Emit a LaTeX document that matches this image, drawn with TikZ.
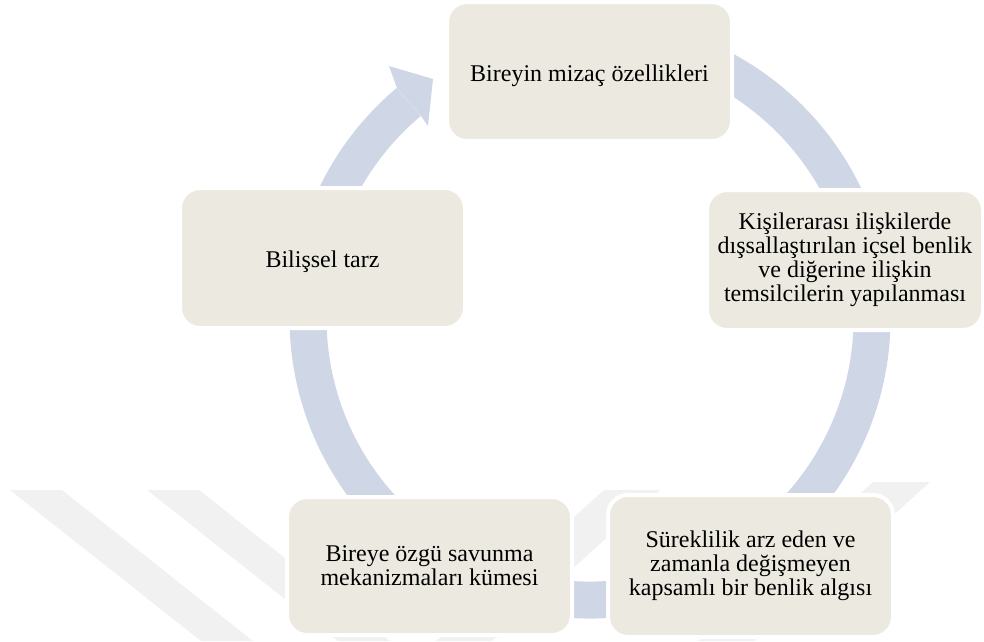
\documentclass[tikz,border=0pt]{standalone}
\usepackage{fontspec}
\setmainfont{Liberation Serif}
\definecolor{ringblue}{HTML}{CFD7E6}
\definecolor{boxfill}{HTML}{ECEAE0}
\definecolor{markgray}{HTML}{F1F1F1}
\tikzset{
  cyclebox/.style={draw=white, line width=4pt, fill=boxfill, rounded corners=20pt,
    minimum width=285pt, minimum height=139pt, align=center, inner sep=0pt,
    font=\fontsize{24}{24}\selectfont},
  oneline/.style={text height=21pt, text depth=2pt},
  ring/.style={draw=ringblue, line width=37pt}
}
\begin{document}
\begin{tikzpicture}[x=1pt,y=-1pt]
\useasboundingbox (0,0) rectangle (984,641);
\fill[markgray] (10,490) -- (62,490) -- (253,641) -- (201,641) -- cycle;
\fill[markgray] (147,490) -- (199,490) -- (390,641) -- (338,641) -- cycle;
\fill[markgray] (604,490) -- (660,490) -- (492,641) -- (436,641) -- cycle;
\fill[markgray] (873,482) -- (930,482) -- (755,641) -- (698,641) -- cycle;

\draw[ring] (590,318) ++(-100:282) arc[start angle=-100, end angle=230, radius=282];
\fill[ringblue] (397,88) -- (389,66) -- (433,79) -- (428,126) -- (421,116) -- cycle;

\node[cyclebox, oneline] (mizac) at (589.5,71.5) {Bireyin mizaç özellikleri};
\node[cyclebox, minimum width=276pt, minimum height=140pt] (temsil) at (845,260)
  {Kişilerarası ilişkilerde\\dışsallaştırılan içsel benlik\\ve diğerine ilişkin\\temsilcilerin yapılanması};
\node[cyclebox, minimum height=142pt] (benlik) at (750.5,566)
  {Süreklilik arz eden ve\\zamanla değişmeyen\\kapsamlı bir benlik algısı};
\node[cyclebox, minimum height=138pt] (savunma) at (429.5,566)
  {Bireye özgü savunma\\mekanizmaları kümesi};
\node[cyclebox, oneline, minimum height=140pt] (biliss) at (322.5,258) {Bilişsel tarz};
\end{tikzpicture}
\end{document}
